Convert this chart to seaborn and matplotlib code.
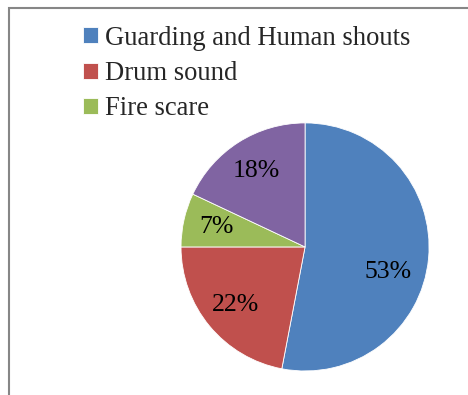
import matplotlib
matplotlib.use('Agg')
import matplotlib.pyplot as plt
from matplotlib.patches import Rectangle
import seaborn as sns

# %% data
categories = ['Guarding and Human shouts', 'Drum sound', 'Fire scare', '']
shares = [53, 22, 7, 18]
colors = sns.color_palette(['#4F81BD', '#C0504D', '#9BBB59', '#8064A2'])

# %% plot
sns.set_style('white')
plt.rcParams['font.family'] = ['Liberation Serif', 'DejaVu Serif']

fig = plt.figure(figsize=(4.68, 3.95), dpi=100)
ax = fig.add_axes([0.3868, 0.0608, 0.530, 0.628])
wedges, texts, autotexts = ax.pie(shares, colors=colors, startangle=90, counterclock=False,
                                  autopct='%1.0f%%', pctdistance=0.73,
                                  wedgeprops=dict(edgecolor='white', linewidth=0.6),
                                  textprops=dict(fontsize=18.5, color='black'))
ax.set(xlim=(-1, 1), ylim=(-1, 1))
ax.set_aspect('auto')
# label of the large slice sits a bit lower, as in the original
autotexts[0].set_position((0.67, -0.20))

fig.legend(wedges[:3], categories[:3], loc='upper left', bbox_to_anchor=(0.178, 0.935),
           frameon=False, fontsize=19.2, handlelength=0.55, handleheight=0.55,
           handletextpad=0.25, labelspacing=0.39, borderpad=0, borderaxespad=0)

# chart frame (left and top edges visible)
fig.add_artist(Rectangle((9 / 468, -0.1), 1.2, 1.1 - 8 / 395,
                         transform=fig.transFigure, fill=False,
                         edgecolor='#868686', linewidth=1.5))

fig.savefig('out.png', dpi=100)
